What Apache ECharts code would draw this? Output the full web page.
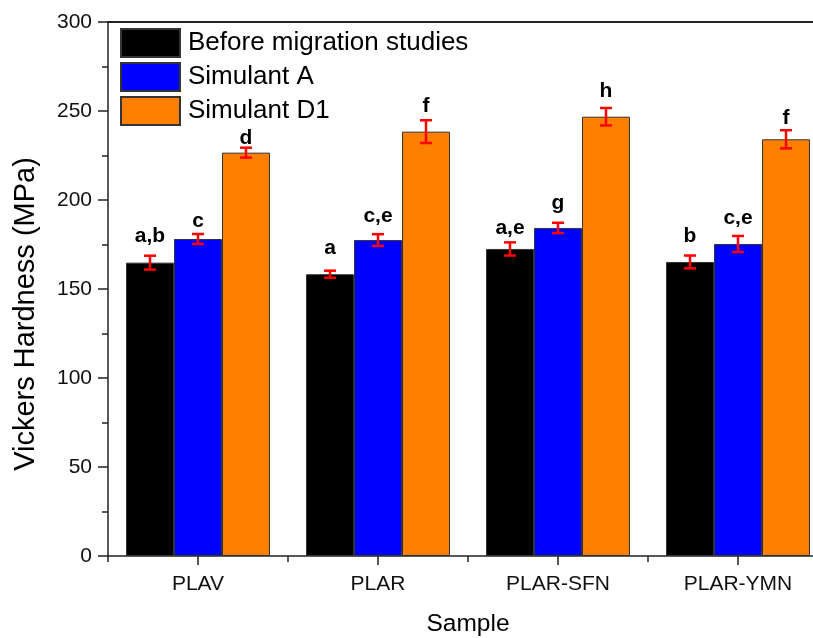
<!DOCTYPE html>
<html>
<head>
<meta charset="utf-8">
<script src="https://cdn.jsdelivr.net/npm/echarts@6/dist/echarts.min.js"></script>
<style>html,body{margin:0;padding:0;background:#fff;}#c{width:813px;height:638px;}</style>
</head>
<body>
<div id="c"></div>
<script>
var categories = ['PLAV', 'PLAR', 'PLAR-SFN', 'PLAR-YMN'];
var seriesNames = ['Before migration studies', 'Simulant A', 'Simulant D1'];
var beforeValues = [164.8, 158.3, 172.5, 165.2];
var simAValues = [178.1, 177.5, 184.3, 175.3];
var simD1Values = [226.6, 238.4, 246.8, 234.1];
var beforeErr = [3.9, 2.0, 3.7, 3.6];
var simAErr = [2.8, 3.3, 2.9, 4.5];
var simD1Err = [2.8, 6.4, 4.9, 5.1];
var beforeLetters = ['a,b', 'a', 'a,e', 'b'];
var simALetters = ['c', 'c,e', 'g', 'c,e'];
var simD1Letters = ['d', 'f', 'h', 'f'];
var beforeLetterAt = [175.8, 169.1, 180.3, 175.8];
var simALetterAt = [184.3, 187.1, 194.4, 186.0];
var simD1LetterAt = [230.9, 248.9, 257.3, 242.1];
var yTicks = [0, 50, 100, 150, 200, 250, 300];

var colors = ['#000000', '#0000ff', '#ff8000'];
var values = [beforeValues, simAValues, simD1Values];
var errs = [beforeErr, simAErr, simD1Err];
var letters = [beforeLetters, simALetters, simD1Letters];
var letterAt = [beforeLetterAt, simALetterAt, simD1LetterAt];
var font = '"Liberation Sans", Arial, sans-serif';

var chart = echarts.init(document.getElementById('c'), null, {renderer: 'canvas'});

function errSeries(k) {
  var data = values[k].map(function (v, i) { return [i, v, errs[k][i], letterAt[k][i]]; });
  return {
    type: 'custom',
    name: 'err' + k,
    xAxisIndex: 0,
    yAxisIndex: 0,
    z: 10,
    silent: true,
    data: data,
    encode: {x: 0, y: 1},
    renderItem: function (params, api) {
      var i = api.value(0), v = api.value(1), e = api.value(2), la = api.value(3);
      var catW = api.size([1, 0])[0];
      var bw = catW * 0.8 / 3;
      var off = (k - 1) * bw;
      var top = api.coord([i, v + e]);
      var bot = api.coord([i, v - e]);
      var lab = api.coord([i, la]);
      var x = top[0] + off;
      var cw = 6;
      var st = {stroke: '#ff0000', lineWidth: 2.5};
      return {
        type: 'group',
        children: [
          {type: 'line', shape: {x1: x, y1: top[1], x2: x, y2: bot[1]}, style: st},
          {type: 'line', shape: {x1: x - cw, y1: top[1], x2: x + cw, y2: top[1]}, style: st},
          {type: 'line', shape: {x1: x - cw, y1: bot[1], x2: x + cw, y2: bot[1]}, style: st},
          {type: 'text', x: x, y: lab[1] + 4, style: {
            text: letters[k][i], fill: '#000', align: 'center', verticalAlign: 'bottom',
            font: 'bold 21px ' + font
          }}
        ]
      };
    }
  };
}

var barSeries = seriesNames.map(function (n, k) {
  return {
    type: 'bar',
    name: n,
    xAxisIndex: 0,
    yAxisIndex: 0,
    data: values[k],
    barGap: '0%',
    barCategoryGap: '20%',
    itemStyle: {color: colors[k], borderColor: '#333', borderWidth: 1}
  };
});

var option = {
  animation: false,
  backgroundColor: '#fff',
  textStyle: {fontFamily: font},
  grid: {left: 108, right: -15, top: 22, bottom: 82, outerBoundsMode: 'none'},
  legend: {
    orient: 'vertical',
    left: 115,
    top: 23,
    icon: 'rect',
    itemWidth: 59,
    itemHeight: 28,
    itemGap: 4,
    data: seriesNames,
    textStyle: {fontSize: 26, color: '#000', fontFamily: font, padding: [0, 0, 0, 3], lineHeight: 28}
  },
  graphic: [{
    type: 'text',
    x: 26,
    y: 314,
    rotation: Math.PI / 2,
    style: {
      text: 'Vickers Hardness (MPa)',
      font: '29px ' + font,
      fill: '#000',
      align: 'center',
      verticalAlign: 'middle'
    }
  }],
  xAxis: [
    {
      type: 'category',
      data: categories,
      position: 'bottom',
      name: 'Sample',
      nameLocation: 'middle',
      nameGap: 56,
      nameTextStyle: {fontSize: 24.5, color: '#000', fontFamily: font},
      axisLine: {show: true, lineStyle: {color: '#222', width: 1.5}},
      axisTick: {show: true, alignWithLabel: true, length: 9, lineStyle: {color: '#222', width: 1.5}},
      axisLabel: {fontSize: 21, color: '#111', margin: 18, fontFamily: font},
      splitLine: {show: false}
    },
    {
      type: 'category',
      data: categories,
      position: 'bottom',
      axisLine: {show: false},
      axisTick: {show: true, length: 6, lineStyle: {color: '#222', width: 1.5}},
      axisLabel: {show: false},
      splitLine: {show: false}
    },
    {
      type: 'category',
      data: categories,
      position: 'top',
      axisLine: {show: true, lineStyle: {color: '#222', width: 2}},
      axisTick: {show: false},
      axisLabel: {show: false},
      splitLine: {show: false}
    }
  ],
  yAxis: [{
    type: 'value',
    min: yTicks[0],
    max: yTicks[yTicks.length - 1],
    interval: 50,
    axisLine: {show: true, lineStyle: {color: '#222', width: 1.5}},
    axisTick: {show: true, length: 10, lineStyle: {color: '#222', width: 1.5}},
    minorTick: {show: true, splitNumber: 2, length: 6, lineStyle: {color: '#222', width: 1.5}},
    axisLabel: {fontSize: 21, color: '#111', margin: 16, fontFamily: font},
    splitLine: {show: false},
    minorSplitLine: {show: false}
  }],
  series: barSeries.concat([errSeries(0), errSeries(1), errSeries(2)])
};
chart.setOption(option);
</script>
</body>
</html>
